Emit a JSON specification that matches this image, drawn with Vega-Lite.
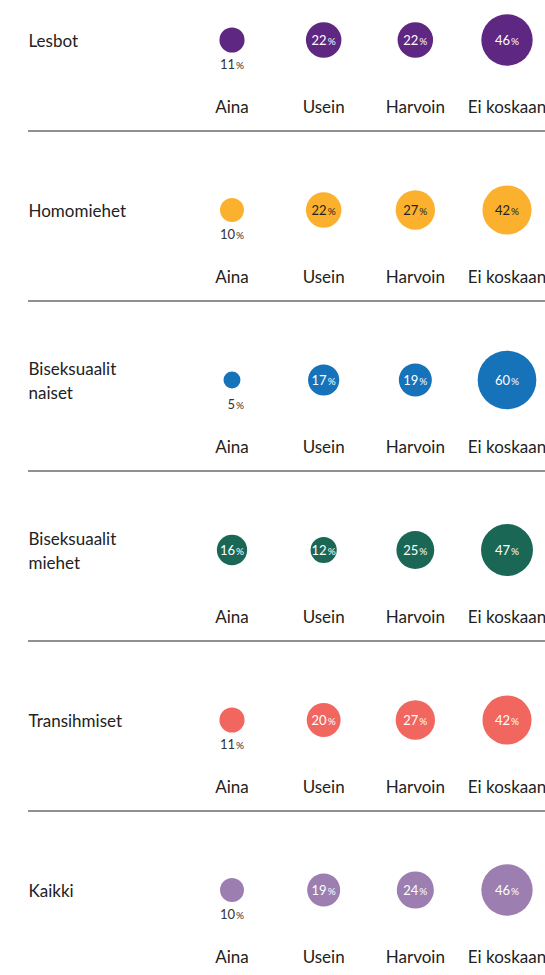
{
  "$schema": "https://vega.github.io/schema/vega-lite/v6.json",
  "width": 517,
  "height": 975,
  "autosize": "none",
  "padding": {"left": 28, "top": 0, "right": 0, "bottom": 0},
  "background": "white",
  "config": {"view": {"stroke": null}, "font": "Lato"},
  "data": {"values": [
    {"group": "Lesbot", "category": "Aina", "value": 11},
    {"group": "Lesbot", "category": "Usein", "value": 22},
    {"group": "Lesbot", "category": "Harvoin", "value": 22},
    {"group": "Lesbot", "category": "Ei koskaan", "value": 46},
    {"group": "Homomiehet", "category": "Aina", "value": 10},
    {"group": "Homomiehet", "category": "Usein", "value": 22},
    {"group": "Homomiehet", "category": "Harvoin", "value": 27},
    {"group": "Homomiehet", "category": "Ei koskaan", "value": 42},
    {"group": "Biseksuaalit naiset", "category": "Aina", "value": 5},
    {"group": "Biseksuaalit naiset", "category": "Usein", "value": 17},
    {"group": "Biseksuaalit naiset", "category": "Harvoin", "value": 19},
    {"group": "Biseksuaalit naiset", "category": "Ei koskaan", "value": 60},
    {"group": "Biseksuaalit miehet", "category": "Aina", "value": 16},
    {"group": "Biseksuaalit miehet", "category": "Usein", "value": 12},
    {"group": "Biseksuaalit miehet", "category": "Harvoin", "value": 25},
    {"group": "Biseksuaalit miehet", "category": "Ei koskaan", "value": 47},
    {"group": "Transihmiset", "category": "Aina", "value": 11},
    {"group": "Transihmiset", "category": "Usein", "value": 20},
    {"group": "Transihmiset", "category": "Harvoin", "value": 27},
    {"group": "Transihmiset", "category": "Ei koskaan", "value": 42},
    {"group": "Kaikki", "category": "Aina", "value": 10},
    {"group": "Kaikki", "category": "Usein", "value": 19},
    {"group": "Kaikki", "category": "Harvoin", "value": 24},
    {"group": "Kaikki", "category": "Ei koskaan", "value": 46}
  ]},
  "encoding": {
    "y": {
      "field": "group", "type": "ordinal",
      "scale": {"type": "point", "domain": ["Lesbot", "Homomiehet", "Biseksuaalit naiset", "Biseksuaalit miehet", "Transihmiset", "Kaikki"], "range": [40, 890], "padding": 0},
      "axis": {"title": null, "orient": "left", "ticks": false, "domain": false, "grid": false, "labelAlign": "left", "labelPadding": 0, "labelBaseline": "middle", "labelFont": "Lato", "labelFontSize": 17, "labelColor": "#222222", "labelLineHeight": 24, "labelLimit": 300, "labelExpr": "split(datum.label, ' ')",
        "labelOffset": {"condition": {"test": "indexof(datum.label, ' ') >= 0", "value": -11}, "value": 1}}
    },
    "x": {
      "field": "category", "type": "ordinal",
      "scale": {"type": "point", "domain": ["Aina", "Usein", "Harvoin", "Ei koskaan"], "range": [204, 479], "padding": 0},
      "axis": null
    }
  },
  "layer": [
    {
      "transform": [{"filter": "datum.category === 'Aina' && datum.group !== 'Kaikki'"}],
      "mark": {"type": "rule", "yOffset": 91, "color": "#6b6b6b", "strokeWidth": 1.5},
      "encoding": {"x": null}
    },
    {
      "mark": {"type": "circle", "opacity": 1},
      "encoding": {
        "size": {"field": "value", "type": "quantitative", "scale": {"type": "linear", "domain": [0, 60], "range": [0, 3444]}, "legend": null},
        "color": {"field": "group", "type": "nominal", "scale": {"domain": ["Lesbot", "Homomiehet", "Biseksuaalit naiset", "Biseksuaalit miehet", "Transihmiset", "Kaikki"], "range": ["#5E2781", "#FBB12D", "#1672B9", "#1A6756", "#F1665F", "#9C7FB0"]}, "legend": null}
      }
    },
    {
      "transform": [{"filter": "datum.value > 11"}],
      "mark": {"type": "text", "align": "right", "baseline": "middle", "dx": 3, "dy": 1, "fontSize": 13, "font": "Lato"},
      "encoding": {
        "text": {"field": "value", "type": "quantitative"},
        "color": {"condition": {"test": "datum.group === 'Homomiehet'", "value": "#222222"}, "value": "#ffffff"}
      }
    },
    {
      "transform": [{"filter": "datum.value > 11"}],
      "mark": {"type": "text", "align": "left", "baseline": "middle", "dx": 4, "dy": 1.5, "fontSize": 10, "font": "Lato", "text": "%"},
      "encoding": {
        "color": {"condition": {"test": "datum.group === 'Homomiehet'", "value": "#222222"}, "value": "#ffffff"}
      }
    },
    {
      "transform": [{"filter": "datum.value <= 11"}],
      "mark": {"type": "text", "align": "right", "baseline": "middle", "dx": 3, "dy": 25, "fontSize": 13, "font": "Lato", "color": "#333333"},
      "encoding": {"text": {"field": "value", "type": "quantitative"}}
    },
    {
      "transform": [{"filter": "datum.value <= 11"}],
      "mark": {"type": "text", "align": "left", "baseline": "middle", "dx": 4, "dy": 25.5, "fontSize": 10, "font": "Lato", "text": "%", "color": "#333333"},
      "encoding": {}
    },
    {
      "mark": {"type": "text", "align": "center", "baseline": "middle", "dy": 68, "fontSize": 17, "font": "Lato", "color": "#222222"},
      "encoding": {"text": {"field": "category", "type": "nominal"}}
    }
  ]
}
